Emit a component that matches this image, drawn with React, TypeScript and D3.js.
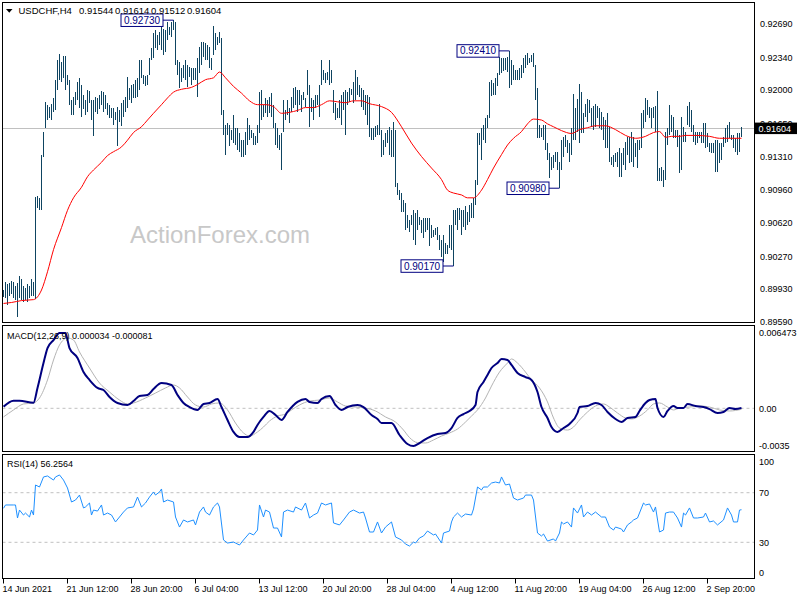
import React from "react";
import * as d3 from "d3";

const symbolLabel = "USDCHF,H4";
const lastQuote = ["0.91544", "0.91614", "0.91512", "0.91604"];
const lastClose = 0.91604;

const highs = [
  0.8992,0.9000,0.8998,0.8999,0.9001,0.9000,0.8996,0.8999,0.9007,0.9003,
  0.8996,0.8994,0.8998,0.8996,0.9003,0.9000,0.9089,0.9090,0.9088,0.9133,
  0.9157,0.9188,0.9185,0.9183,0.9186,0.9192,0.9211,0.9232,0.9238,0.9229,
  0.9236,0.9236,0.9216,0.9211,0.9190,0.9193,0.9198,0.9209,0.9213,0.9206,
  0.9195,0.9190,0.9200,0.9199,0.9190,0.9190,0.9193,0.9192,0.9195,0.9199,
  0.9198,0.9195,0.9187,0.9185,0.9182,0.9182,0.9177,0.9183,0.9179,0.9187,
  0.9190,0.9193,0.9214,0.9202,0.9206,0.9207,0.9211,0.9213,0.9232,0.9232,
  0.9216,0.9215,0.9216,0.9234,0.9244,0.9260,0.9263,0.9258,0.9261,0.9271,
  0.9264,0.9263,0.9271,0.9266,0.9271,0.9273,0.9271,0.9232,0.9229,0.9223,
  0.9226,0.9232,0.9226,0.9224,0.9223,0.9223,0.9223,0.9234,0.9245,0.9250,
  0.9250,0.9249,0.9247,0.9245,0.9234,0.9267,0.9260,0.9255,0.9261,0.9254,
  0.9179,0.9164,0.9166,0.9164,0.9159,0.9174,0.9161,0.9161,0.9156,0.9148,
  0.9148,0.9157,0.9171,0.9164,0.9159,0.9156,0.9152,0.9164,0.9198,0.9200,
  0.9185,0.9192,0.9190,0.9193,0.9197,0.9185,0.9166,0.9161,0.9153,0.9156,
  0.9190,0.9179,0.9190,0.9182,0.9193,0.9202,0.9203,0.9200,0.9200,0.9195,
  0.9198,0.9192,0.9221,0.9206,0.9192,0.9190,0.9195,0.9195,0.9206,0.9232,
  0.9221,0.9218,0.9219,0.9232,0.9221,0.9200,0.9187,0.9182,0.9190,0.9195,
  0.9198,0.9200,0.9198,0.9202,0.9201,0.9209,0.9221,0.9214,0.9206,0.9202,
  0.9200,0.9195,0.9195,0.9193,0.9161,0.9161,0.9163,0.9164,0.9186,0.9159,
  0.9148,0.9156,0.9159,0.9162,0.9159,0.9167,0.9159,0.9103,0.9096,0.9093,
  0.9086,0.9083,0.9070,0.9065,0.9070,0.9075,0.9072,0.9075,0.9068,0.9065,
  0.9067,0.9067,0.9067,0.9067,0.9060,0.9055,0.9057,0.9058,0.9049,0.9044,
  0.9049,0.9041,0.9039,0.9060,0.9060,0.9075,0.9075,0.9077,0.9077,0.9075,
  0.9075,0.9079,0.9073,0.9081,0.9083,0.9088,0.9107,0.9156,0.9156,0.9161,
  0.9164,0.9171,0.9174,0.9209,0.9211,0.9208,0.9213,0.9218,0.9235,0.9234,
  0.9234,0.9234,0.9235,0.9241,0.9232,0.9226,0.9221,0.9221,0.9223,0.9226,
  0.9234,0.9237,0.9239,0.9234,0.9237,0.9239,0.9226,0.9202,0.9164,0.9161,
  0.9164,0.9164,0.9145,0.9135,0.9130,0.9133,0.9136,0.9136,0.9125,0.9148,
  0.9151,0.9153,0.9148,0.9145,0.9161,0.9196,0.9182,0.9191,0.9207,0.9198,
  0.9176,0.9186,0.9191,0.9190,0.9182,0.9184,0.9186,0.9184,0.9182,0.9177,
  0.9172,0.9169,0.9176,0.9162,0.9131,0.9133,0.9135,0.9136,0.9140,0.9135,
  0.9140,0.9146,0.9151,0.9151,0.9157,0.9151,0.9145,0.9148,0.9148,0.9176,
  0.9179,0.9192,0.9190,0.9183,0.9182,0.9183,0.9184,0.9199,0.9119,0.9120,
  0.9117,0.9157,0.9161,0.9185,0.9174,0.9172,0.9159,0.9159,0.9153,0.9172,
  0.9162,0.9157,0.9184,0.9188,0.9179,0.9164,0.9157,0.9157,0.9157,0.9157,
  0.9166,0.9166,0.9156,0.9145,0.9145,0.9145,0.9148,0.9148,0.9145,0.9145,
  0.9151,0.9161,0.9164,0.9167,0.9153,0.9153,0.9150,0.9156,0.9156,0.91614,
];

const lows = [
  0.8985,0.8984,0.8976,0.8986,0.8988,0.8984,0.8982,0.8964,0.8984,0.8982,
  0.8980,0.8982,0.8979,0.8984,0.8986,0.8986,0.8983,0.9077,0.9075,0.9075,
  0.9130,0.9161,0.9169,0.9171,0.9169,0.9177,0.9179,0.9200,0.9211,0.9209,
  0.9213,0.9200,0.9206,0.9185,0.9174,0.9174,0.9185,0.9190,0.9182,0.9172,
  0.9180,0.9174,0.9177,0.9187,0.9169,0.9152,0.9177,0.9175,0.9180,0.9185,
  0.9177,0.9180,0.9174,0.9171,0.9171,0.9164,0.9169,0.9142,0.9167,0.9163,
  0.9172,0.9177,0.9182,0.9190,0.9187,0.9192,0.9192,0.9193,0.9200,0.9213,
  0.9207,0.9204,0.9206,0.9216,0.9232,0.9234,0.9244,0.9242,0.9247,0.9242,
  0.9237,0.9240,0.9252,0.9258,0.9255,0.9263,0.9226,0.9216,0.9202,0.9209,
  0.9213,0.9211,0.9203,0.9214,0.9206,0.9211,0.9211,0.9193,0.9218,0.9226,
  0.9235,0.9232,0.9232,0.9223,0.9221,0.9237,0.9242,0.9247,0.9249,0.9174,
  0.9153,0.9133,0.9153,0.9142,0.9148,0.9145,0.9143,0.9138,0.9136,0.9130,
  0.9131,0.9133,0.9143,0.9148,0.9150,0.9143,0.9143,0.9145,0.9156,0.9169,
  0.9172,0.9176,0.9172,0.9176,0.9172,0.9161,0.9143,0.9140,0.9138,0.9117,
  0.9157,0.9169,0.9174,0.9166,0.9177,0.9182,0.9185,0.9177,0.9185,0.9177,
  0.9190,0.9183,0.9195,0.9162,0.9177,0.9169,0.9182,0.9185,0.9172,0.9206,
  0.9211,0.9208,0.9211,0.9206,0.9208,0.9176,0.9169,0.9171,0.9171,0.9164,
  0.9179,0.9153,0.9185,0.9188,0.9195,0.9187,0.9190,0.9195,0.9193,0.9183,
  0.9179,0.9174,0.9164,0.9151,0.9148,0.9148,0.9151,0.9153,0.9153,0.9130,
  0.9133,0.9141,0.9145,0.9133,0.9131,0.9130,0.9099,0.9091,0.9086,0.9073,
  0.9073,0.9055,0.9057,0.9052,0.9060,0.9044,0.9039,0.9055,0.9060,0.9051,
  0.9046,0.9052,0.9055,0.9038,0.9046,0.9047,0.9049,0.9044,0.9034,0.9026,
  0.9021,0.9029,0.9029,0.9036,0.9034,0.9017,0.9060,0.9055,0.9065,0.9049,
  0.9058,0.9055,0.9060,0.9063,0.9067,0.9067,0.9081,0.9101,0.9143,0.9127,
  0.9148,0.9145,0.9161,0.9171,0.9194,0.9195,0.9195,0.9204,0.9216,0.9218,
  0.9220,0.9221,0.9219,0.9202,0.9206,0.9211,0.9211,0.9211,0.9211,0.9213,
  0.9218,0.9223,0.9226,0.9228,0.9229,0.9224,0.9190,0.9150,0.9150,0.9151,
  0.9148,0.9138,0.9127,0.9109,0.9117,0.9119,0.9125,0.9117,0.9098,0.9117,
  0.9130,0.9141,0.9135,0.9125,0.9133,0.9148,0.9148,0.9157,0.9145,0.9156,
  0.9156,0.9172,0.9167,0.9176,0.9162,0.9159,0.9162,0.9171,0.9161,0.9159,
  0.9148,0.9140,0.9140,0.9125,0.9122,0.9120,0.9125,0.9120,0.9110,0.9110,
  0.9122,0.9117,0.9133,0.9124,0.9125,0.9120,0.9130,0.9119,0.9138,0.9140,
  0.9161,0.9167,0.9174,0.9171,0.9161,0.9171,0.9157,0.9105,0.9105,0.9105,
  0.9099,0.9107,0.9143,0.9153,0.9157,0.9150,0.9150,0.9141,0.9114,0.9117,
  0.9146,0.9146,0.9164,0.9162,0.9157,0.9146,0.9143,0.9145,0.9150,0.9145,
  0.9145,0.9140,0.9141,0.9136,0.9135,0.9135,0.9115,0.9115,0.9124,0.9127,
  0.9141,0.9145,0.9146,0.9150,0.9148,0.9140,0.9136,0.9133,0.9136,0.91512,
];

// [bar index, value]
const maPoints: [number, number][] = [
  [0,0.8978],[4,0.8979],[9,0.8981],[15,0.8982],[19,0.8992],[22,0.9011],[25,0.9034],[29,0.9057],[32,0.9075],[35,0.9088],
  [39,0.9099],[42,0.9110],[45,0.9117],[49,0.9125],[52,0.9132],[55,0.9136],[59,0.9141],[62,0.9148],[65,0.9156],[69,0.9162],
  [72,0.9169],[75,0.9176],[79,0.9185],[82,0.9192],[85,0.9198],[89,0.9201],[94,0.9203],[97,0.9206],[101,0.9211],[105,0.9213],
  [108,0.9219],[111,0.9213],[115,0.9204],[119,0.9197],[123,0.9189],[127,0.9185],[131,0.9185],[135,0.9183],[139,0.9176],[143,0.9177],
  [147,0.9179],[151,0.9182],[155,0.9182],[159,0.9185],[163,0.9189],[167,0.9188],[171,0.9187],[175,0.9189],[179,0.9189],[183,0.9186],
  [189,0.9183],[194,0.9177],[199,0.9162],[204,0.9145],[209,0.9131],[214,0.9119],[219,0.9107],[222,0.9096],[225,0.9093],[229,0.9091],
  [232,0.9088],[235,0.9088],[239,0.9096],[242,0.9107],[245,0.9119],[249,0.9133],[252,0.9143],[255,0.9150],[259,0.9157],[262,0.9165],
  [265,0.9170],[269,0.9169],[272,0.9165],[275,0.9162],[279,0.9158],[284,0.9155],[288,0.9159],[292,0.9161],[296,0.9163],[301,0.9163],
  [306,0.9159],[311,0.9153],[316,0.9150],[321,0.9152],[325,0.9156],[328,0.9157],[331,0.9151],[334,0.9152],[338,0.9152],[341,0.9153],
  [346,0.9153],[353,0.9152],[358,0.9150],[364,0.9150],[369,0.9150],
];

const macdPoints: [number, number][] = [
  [0,0.00013],[5,0.00060],[8,0.00060],[15,0.00044],[17,0.00160],[20,0.00356],[22,0.00474],[25,0.00537],[28,0.00592],[31,0.00592],
  [32,0.00537],[33,0.00474],[37,0.00396],[40,0.00285],[43,0.00223],[47,0.00160],[50,0.00144],[53,0.00089],[57,0.00042],[62,0.00026],
  [65,0.00057],[68,0.00097],[72,0.00105],[75,0.00152],[79,0.00199],[84,0.00183],[87,0.00105],[90,0.00042],[93,0.00010],[97,-0.00013],
  [100,0.00034],[103,0.00042],[107,0.00073],[109,0.00010],[112,-0.00092],[115,-0.00186],[118,-0.00226],[122,-0.00226],[125,-0.00186],[127,-0.00131],
  [130,-0.00068],[133,-0.00021],[136,-0.00053],[139,-0.00092],[142,-0.00029],[147,0.00050],[151,0.00073],[153,0.00050],[157,0.00042],[159,0.00073],
  [163,0.00097],[166,0.00026],[169,-0.00013],[172,0.00010],[177,0.00026],[180,0.00010],[184,-0.00053],[187,-0.00084],[189,-0.00116],[194,-0.00116],
  [198,-0.00210],[202,-0.00281],[205,-0.00297],[208,-0.00273],[212,-0.00234],[217,-0.00202],[221,-0.00194],[224,-0.00155],[227,-0.00076],[230,-0.00045],
  [233,-0.00021],[236,0.00026],[237,0.00128],[240,0.00207],[242,0.00262],[244,0.00317],[247,0.00356],[249,0.00388],[252,0.00380],[254,0.00341],
  [257,0.00278],[261,0.00246],[264,0.00223],[267,0.00128],[269,0.00010],[272,-0.00076],[274,-0.00147],[277,-0.00186],[280,-0.00155],[283,-0.00123],
  [287,-0.00037],[288,0.00010],[292,0.00018],[296,0.00042],[299,0.00026],[302,-0.00029],[306,-0.00084],[309,-0.00108],[312,-0.00076],[316,-0.00068],
  [318,-0.00021],[321,0.00042],[323,0.00065],[326,0.00073],[327,0.00002],[330,-0.00068],[332,-0.00021],[335,0.00018],[337,0.00002],[340,0.00002],
  [342,0.00034],[346,0.00018],[350,0.00010],[353,-0.00006],[357,-0.00037],[360,-0.00029],[363,0.00002],[366,-0.00006],[369,0.000034],
];

const signalPoints: [number, number][] = [
  [0,-0.00068],[5,-0.00013],[10,0.00034],[15,0.00042],[18,0.00081],[22,0.00223],[25,0.00380],[28,0.00498],[32,0.00553],[35,0.00537],
  [38,0.00443],[43,0.00317],[48,0.00199],[53,0.00128],[58,0.00065],[62,0.00034],[65,0.00042],[71,0.00081],[76,0.00120],[81,0.00160],
  [85,0.00183],[88,0.00160],[92,0.00089],[96,0.00026],[100,0.00010],[104,0.00034],[108,0.00042],[112,-0.00013],[116,-0.00116],[120,-0.00194],
  [123,-0.00218],[127,-0.00186],[130,-0.00147],[133,-0.00100],[137,-0.00061],[141,-0.00045],[144,-0.00013],[148,0.00026],[153,0.00057],[158,0.00065],
  [163,0.00081],[167,0.00050],[171,0.00018],[176,0.00010],[181,0.00002],[186,-0.00021],[191,-0.00068],[196,-0.00108],[200,-0.00171],[203,-0.00230],
  [207,-0.00270],[211,-0.00273],[215,-0.00249],[219,-0.00218],[223,-0.00194],[227,-0.00163],[231,-0.00108],[234,-0.00061],[237,-0.00013],[241,0.00081],
  [244,0.00175],[248,0.00285],[252,0.00356],[254,0.00388],[257,0.00356],[261,0.00285],[264,0.00223],[268,0.00160],[272,0.00050],[275,-0.00076],
  [278,-0.00155],[282,-0.00171],[285,-0.00147],[288,-0.00092],[292,-0.00029],[296,0.00018],[300,0.00034],[303,0.00010],[307,-0.00037],[311,-0.00076],
  [314,-0.00084],[318,-0.00061],[322,-0.00013],[325,0.00034],[328,0.00042],[332,0.00010],[335,-0.00013],[338,0.00002],[343,0.00010],[348,0.00018],
  [353,0.00010],[358,-0.00013],[363,-0.00021],[369,-0.000081],
];

const rsiPoints: [number, number][] = [
  [0,57.4],[1,60.1],[5,60.1],[6,60.1],[7,49.6],[8,56.0],[10,52.0],[11,53.6],[13,50.4],[14,56.0],[15,52.0],[16,76.2],[18,74.6],[20,82.7],
  [22,83.5],[25,80.2],[26,82.7],[28,84.3],[30,80.2],[32,73.8],[34,62.5],[36,64.1],[38,68.1],[40,57.7],[41,58.5],[43,61.7],[44,52.0],[45,56.0],
  [47,55.2],[49,60.1],[50,52.0],[52,53.6],[54,52.0],[56,46.4],[58,50.4],[60,54.4],[62,57.7],[65,58.5],[67,66.5],[69,58.5],[71,61.7],[73,66.5],
  [75,70.6],[76,68.1],[78,70.6],[79,73.0],[80,62.5],[82,64.1],[85,62.5],[86,50.4],[88,42.3],[90,48.0],[92,46.4],[95,48.0],[96,44.0],[98,54.4],
  [100,58.5],[101,54.4],[103,52.0],[105,58.5],[107,61.7],[108,58.5],[110,31.9],[112,29.4],[115,30.2],[116,29.4],[118,27.8],[120,31.9],[123,37.5],
  [125,35.9],[127,39.9],[128,60.1],[130,50.4],[131,56.0],[133,54.4],[135,41.5],[137,41.5],[139,34.3],[140,54.4],[142,56.0],[145,54.4],[146,58.5],
  [149,56.0],[151,61.7],[153,49.6],[155,52.0],[157,53.6],[159,61.7],[161,60.1],[164,61.7],[165,45.6],[168,44.0],[170,48.0],[173,54.4],[175,56.0],
  [178,53.6],[180,54.4],[181,49.6],[183,38.3],[185,38.3],[187,46.4],[189,37.5],[191,42.3],[194,46.4],[196,34.3],[199,31.9],[201,28.6],[203,27.0],
  [205,30.2],[206,29.4],[208,33.5],[210,35.1],[212,39.1],[215,35.9],[216,36.7],[219,29.4],[220,37.5],[223,39.1],[224,46.4],[225,50.4],[227,53.6],
  [229,50.4],[231,52.8],[234,52.0],[235,56.9],[237,74.6],[239,72.2],[240,74.6],[242,74.6],[244,77.8],[246,78.6],[248,77.8],[249,82.7],[251,76.2],
  [253,77.0],[255,65.7],[257,64.1],[260,65.7],[261,68.1],[264,68.1],[265,64.1],[267,37.5],[269,35.1],[270,36.7],[272,31.0],[275,32.7],[276,31.0],
  [278,37.5],[279,46.4],[280,44.8],[282,46.4],[284,42.3],[285,57.7],[287,53.6],[289,60.1],[290,50.4],[292,54.4],[294,52.0],[296,54.4],[299,50.4],
  [301,50.4],[303,42.3],[305,39.9],[306,42.3],[309,40.7],[310,38.3],[312,44.0],[314,46.4],[315,48.0],[317,49.6],[320,61.7],[321,60.1],[323,60.9],
  [325,54.4],[326,58.5],[328,38.3],[330,39.9],[331,53.6],[333,54.4],[335,54.4],[337,49.6],[339,42.3],[340,53.6],[341,52.0],[343,57.7],[345,49.6],
  [347,49.6],[350,50.4],[351,53.6],[353,46.4],[355,47.2],[357,44.0],[360,48.0],[362,57.7],[364,52.0],[365,46.4],[367,46.4],[368,56.0],[369,56.2564],
];

const priceTicks = [0.9269, 0.9234, 0.92, 0.9165, 0.9131, 0.9096, 0.9062, 0.9027, 0.8993, 0.8959];
const macdTickLabels = ["0.006473", "0.00", "-0.0035"];
const rsiTicks = [100, 70, 30, 0];
const rsiLevels = [70, 30];
const timeLabels = [
  "14 Jun 2021", "21 Jun 12:00", "28 Jun 20:00", "6 Jul 04:00", "13 Jul 12:00", "20 Jul 20:00",
  "28 Jul 04:00", "4 Aug 12:00", "11 Aug 20:00", "19 Aug 04:00", "26 Aug 12:00", "2 Sep 20:00",
];
const barsPerLabel = 32;
const extremes: { bar: number; price: number }[] = [
  { bar: 85, price: 0.9273 },
  { bar: 253, price: 0.9241 },
  { bar: 225, price: 0.9017 },
  { bar: 278, price: 0.9098 },
];

const FONT = "'Liberation Sans', Arial, sans-serif";
const L = 2.5, R = 754.5;
const P_TOP = 2.5, P_BOT = 322.5;
const M_TOP = 325.5, M_BOT = 451.5;
const S_TOP = 454.5, S_BOT = 578.5;

export default function App() {
  const n = highs.length;
  const x = d3.scaleLinear().domain([0, n - 1]).range([3, 3 + 2 * (n - 1)]);
  const yP = d3.scaleLinear().domain([0.8959, 0.9269]).range([321.7, 24]);
  const yM = d3.scaleLinear().domain([0, 0.006473]).range([408.3, 326]);
  const yR = d3.scaleLinear().domain([0, 100]).range([579.5, 455.5]);

  const maLine = d3.line<[number, number]>().x(d => x(d[0]) + 0.5).y(d => yP(d[1])).curve(d3.curveMonotoneX);
  const macdLine = d3.line<[number, number]>().x(d => x(d[0]) + 0.5).y(d => yM(d[1])).curve(d3.curveMonotoneX);
  const rsiLine = d3.line<[number, number]>().x(d => x(d[0]) + 0.5).y(d => yR(d[1]));

  const macdTickVals = [0.006473, 0, -0.0035];
  const macdLabelY = [333, 408.3, 445.7];
  const rsiLabelY = [461.7, 492.7, 542.3, 572.3];
  const lastY = yP(lastClose);

  return (
    <div style={{ position: "absolute", left: 0, top: 0, width: 800, height: 600, background: "#fff" }}>
      <svg width={800} height={600} style={{ display: "block" }} fontFamily={FONT}>
        <defs>
          <clipPath id="cpP"><rect x={3} y={3} width={751} height={319} /></clipPath>
          <clipPath id="cpM"><rect x={3} y={326} width={751} height={125} /></clipPath>
          <clipPath id="cpS"><rect x={3} y={455} width={751} height={123} /></clipPath>
        </defs>
        <rect x={0} y={0} width={800} height={600} fill="#fff" />

        {/* price panel */}
        <text x={130} y={243} fontSize={24} fill="#c8c8c8">ActionForex.com</text>
        <line x1={L} x2={R} y1={Math.round(lastY) + 0.5} y2={Math.round(lastY) + 0.5} stroke="#c0c0c0" />
        <g clipPath="url(#cpP)" shapeRendering="crispEdges">
          {highs.map((h, i) => (
            <rect key={i} x={x(i)} y={yP(h)} width={1} height={Math.max(1, yP(lows[i]) - yP(h))} fill="#0e4461" />
          ))}
        </g>
        <path d={maLine(maPoints) || ""} fill="none" stroke="#ff0000" strokeWidth={1} clipPath="url(#cpP)" />
        {extremes.map((e, k) => {
          const bx = x(e.bar);
          const py = yP(e.price);
          return (
            <g key={k}>
              <line x1={bx - 10} x2={bx + 0.5} y1={py} y2={py} stroke="#000080" />
              <rect x={bx - 52} y={py - 6.2} width={42} height={12.5} fill="#fff" stroke="#000080" />
              <text x={bx - 31} y={py + 3.6} fontSize={10} textAnchor="middle" fill="#000080">{e.price.toFixed(5)}</text>
            </g>
          );
        })}
        <path d="M6,9 L12.5,9 L9.25,12.7 Z" fill="#000" />
        <text x={18.5} y={14} fontSize={9.5} fill="#000">{symbolLabel}</text>
        {lastQuote.map((q, k) => (
          <text key={k} x={79 + k * 36} y={14} fontSize={9.5} fill="#000">{q}</text>
        ))}
        <rect x={L} y={P_TOP} width={R - L} height={P_BOT - P_TOP} fill="none" stroke="#000" />
        {priceTicks.map((t, k) => (
          <text key={k} x={760} y={yP(t) + 3.2} fontSize={9} fill="#000">{t.toFixed(5)}</text>
        ))}
        <rect x={755} y={lastY - 5.7} width={42} height={11.5} fill="#000" />
        <text x={758.5} y={lastY + 3.3} fontSize={9} fill="#fff">{lastClose.toFixed(5)}</text>

        {/* MACD panel */}
        <line x1={L} x2={R} y1={yM(0)} y2={yM(0)} stroke="#c0c0c0" strokeDasharray="3,3" />
        <g clipPath="url(#cpM)">
          <path d={macdLine(signalPoints) || ""} fill="none" stroke="#b4b4b4" strokeWidth={1} />
          <path d={macdLine(macdPoints) || ""} fill="none" stroke="#000080" strokeWidth={2} />
        </g>
        <text x={7} y={339} fontSize={9} fill="#000">MACD(12,26,9) 0.000034 -0.000081</text>
        <rect x={L} y={M_TOP} width={R - L} height={M_BOT - M_TOP} fill="none" stroke="#000" />
        {macdTickLabels.map((t, k) => (
          <text key={k} x={759} y={macdLabelY[k] + 3.2} fontSize={9} fill="#000" data-v={macdTickVals[k]}>{t}</text>
        ))}

        {/* RSI panel */}
        {rsiLevels.map((lv, k) => (
          <line key={k} x1={L} x2={R} y1={yR(lv)} y2={yR(lv)} stroke="#c0c0c0" strokeDasharray="3,3" />
        ))}
        <path d={rsiLine(rsiPoints) || ""} fill="none" stroke="#1e90ff" strokeWidth={1} clipPath="url(#cpS)" />
        <text x={7} y={467} fontSize={9} fill="#000">RSI(14) 56.2564</text>
        <rect x={L} y={S_TOP} width={R - L} height={S_BOT - S_TOP} fill="none" stroke="#000" />
        {rsiTicks.map((t, k) => (
          <text key={k} x={759} y={rsiLabelY[k] + 3.2} fontSize={9} fill="#000">{t}</text>
        ))}

        {/* time axis */}
        {timeLabels.map((lab, k) => {
          const xi = x(k * barsPerLabel);
          return (
            <g key={k}>
              <line x1={xi + 0.5} x2={xi + 0.5} y1={S_BOT} y2={S_BOT + 5} stroke="#000" />
              <text x={xi - 0.5} y={592} fontSize={9} fill="#000">{lab}</text>
            </g>
          );
        })}
      </svg>
    </div>
  );
}
